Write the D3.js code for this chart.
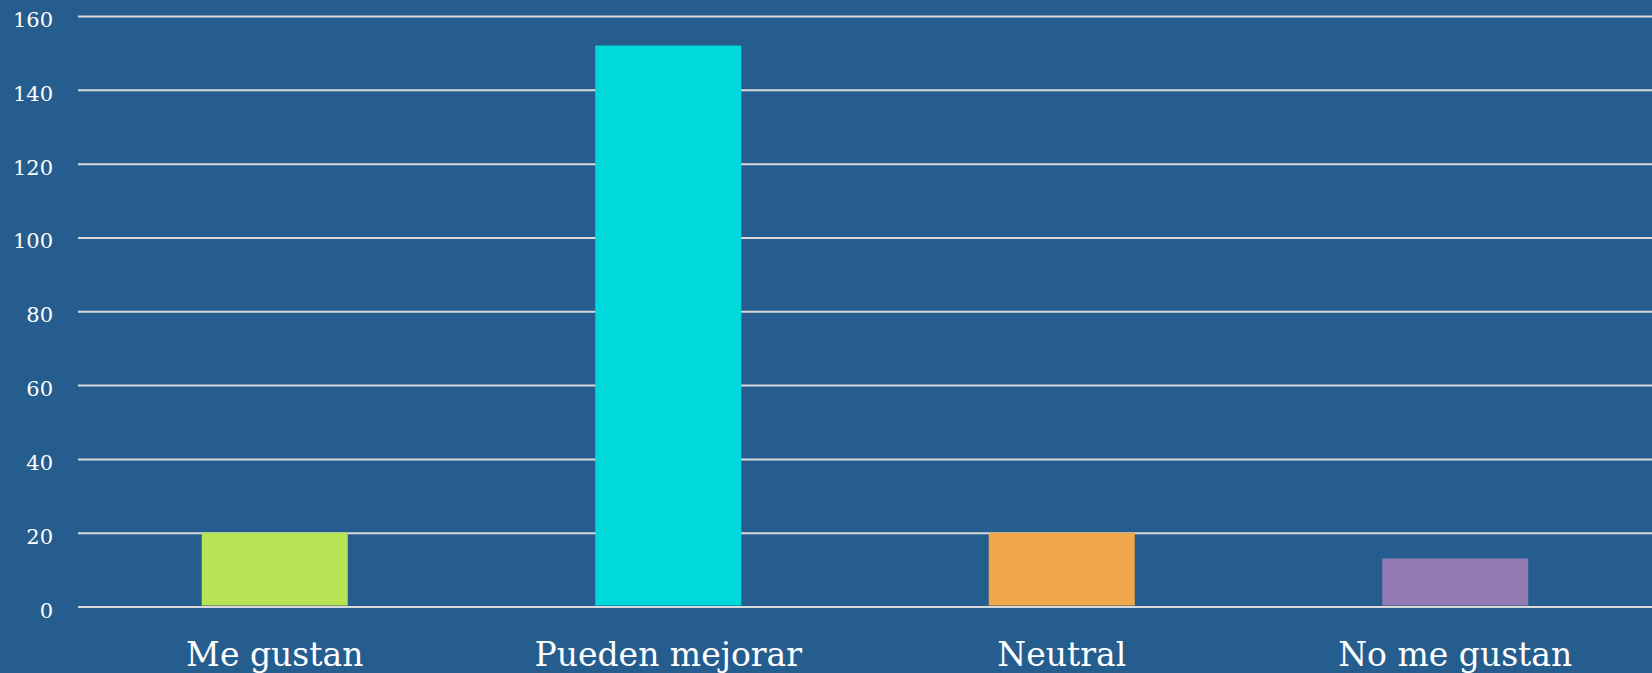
<!DOCTYPE html>
<html>
<head>
<meta charset="utf-8">
<script src="https://cdn.jsdelivr.net/npm/d3@7"></script>
<style>
html,body{margin:0;padding:0;background:#265D8F;overflow:hidden;}
svg{display:block;}
</style>
</head>
<body>
<svg id="chart" width="1652" height="673"></svg>
<script>
const categories = ["Me gustan", "Pueden mejorar", "Neutral", "No me gustan"];
const values = [20, 152, 20, 13];
const colors = ["#B8E354", "#00D9DC", "#F0A84A", "#937AB2"];
const yTicks = [0, 20, 40, 60, 80, 100, 120, 140, 160];

const W = 1652, H = 673;
const svg = d3.select("#chart");
svg.append("rect").attr("width", W).attr("height", H).attr("fill", "#265D8F");

const x = d3.scaleBand().domain(categories).range([78, 1652]).paddingInner(0.629).paddingOuter(0.3145);
const y = d3.scaleLinear().domain([0, 160]).range([606.5, 16]);

const font = "Georgia, 'DejaVu Serif', serif";

// gridlines
const yAxis = d3.axisLeft(y).tickValues(yTicks).tickSize(-(1652 - 78)).tickPadding(25).tickFormat(d3.format("d"));
const gy = svg.append("g").attr("transform", "translate(78,0)").call(yAxis);
gy.select(".domain").remove();
gy.selectAll(".tick line").attr("stroke", "#D9D9D9").attr("stroke-width", 2);
gy.selectAll(".tick text").attr("fill", "#ffffff").attr("font-family", font).attr("font-size", 21).attr("dy", "0.5em");

// bars
svg.append("g").selectAll("rect").data(categories).join("rect")
  .attr("x", d => x(d))
  .attr("width", x.bandwidth())
  .attr("y", (d, i) => y(values[i]))
  .attr("height", (d, i) => y(0) - y(values[i]) - 1)
  .attr("fill", (d, i) => colors[i]);

// x labels
const xAxis = d3.axisBottom(x).tickSize(0).tickPadding(0);
const gx = svg.append("g").attr("transform", "translate(0,607)").call(xAxis);
gx.select(".domain").remove();
gx.selectAll(".tick text").attr("fill", "#ffffff").attr("font-family", font).attr("font-size", 33).attr("dy", "1.78em").attr("y", 0);
</script>
</body>
</html>
